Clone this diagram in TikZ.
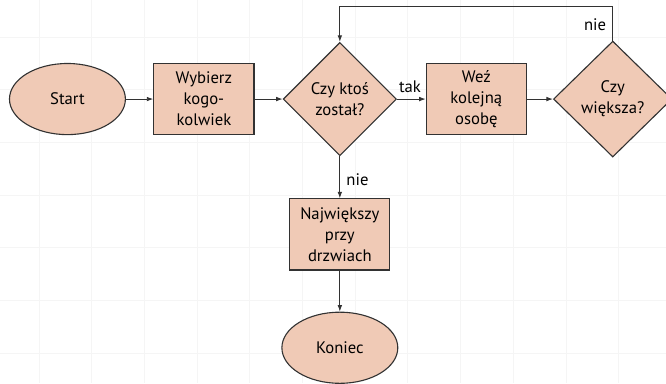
\documentclass[tikz,border=0pt]{standalone}
\usepackage{fontspec}
\setmainfont{PT Sans}
\usetikzlibrary{shapes.geometric,arrows.meta}
\definecolor{nodefill}{RGB}{240,202,182}
\definecolor{nodeline}{RGB}{50,50,50}
\tikzset{
  base/.style={draw=nodeline, fill=nodefill, line width=0.6pt, align=center, font=\fontsize{9}{11.3}\selectfont},
  term/.style={base, ellipse, minimum width=2.2cm, minimum height=1.35cm},
  proc/.style={base, rectangle, minimum width=1.9cm, minimum height=1.35cm, inner sep=2pt},
  decide/.style={base, diamond, aspect=1, minimum width=2.15cm, minimum height=2.15cm, inner sep=1pt},
  arr/.style={-{Latex[length=3.5pt,width=2.5pt]}, draw=nodeline, line width=0.5pt},
  lbl/.style={font=\fontsize{9}{11.3}\selectfont}
}
\begin{document}
\begin{tikzpicture}
\useasboundingbox (-0.74,-0.57) rectangle (11.9,6.7);
\draw[black!4, line width=0.4pt] (-0.74,-0.57) grid (11.9,6.7);

\node[term]   (start)  at (0.54,4.82) {Start};
\node[proc]   (pick)   at (3.13,4.82) {Wybierz\\kogo-\\kolwiek};
\node[decide] (left)   at (5.71,4.82) {Czy ktoś\\został?};
\node[proc]   (next)   at (8.30,4.82) {Weź\\kolejną\\osobę};
\node[decide, minimum width=2.25cm, minimum height=2.2cm] (bigger) at (10.89,4.82) {Czy\\większa?};
\node[proc]   (door)   at (5.71,2.25) {Największy\\przy\\drzwiach};
\node[term]   (stop)   at (5.71,0.10) {Koniec};

\draw[arr] (start) -- (pick);
\draw[arr] (pick) -- (left);
\draw[arr] (left) -- (next) node[lbl, pos=0.45, above] {tak};
\draw[arr] (next) -- (bigger);
\draw[arr] (bigger.north) -- ++(0,0.65) node[lbl, pos=0.45, left] {nie} -| (left.north);
\draw[arr] (left.south) -- (door.north) node[lbl, pos=0.55, right] {nie};
\draw[arr] (door) -- (stop);
\end{tikzpicture}
\end{document}
